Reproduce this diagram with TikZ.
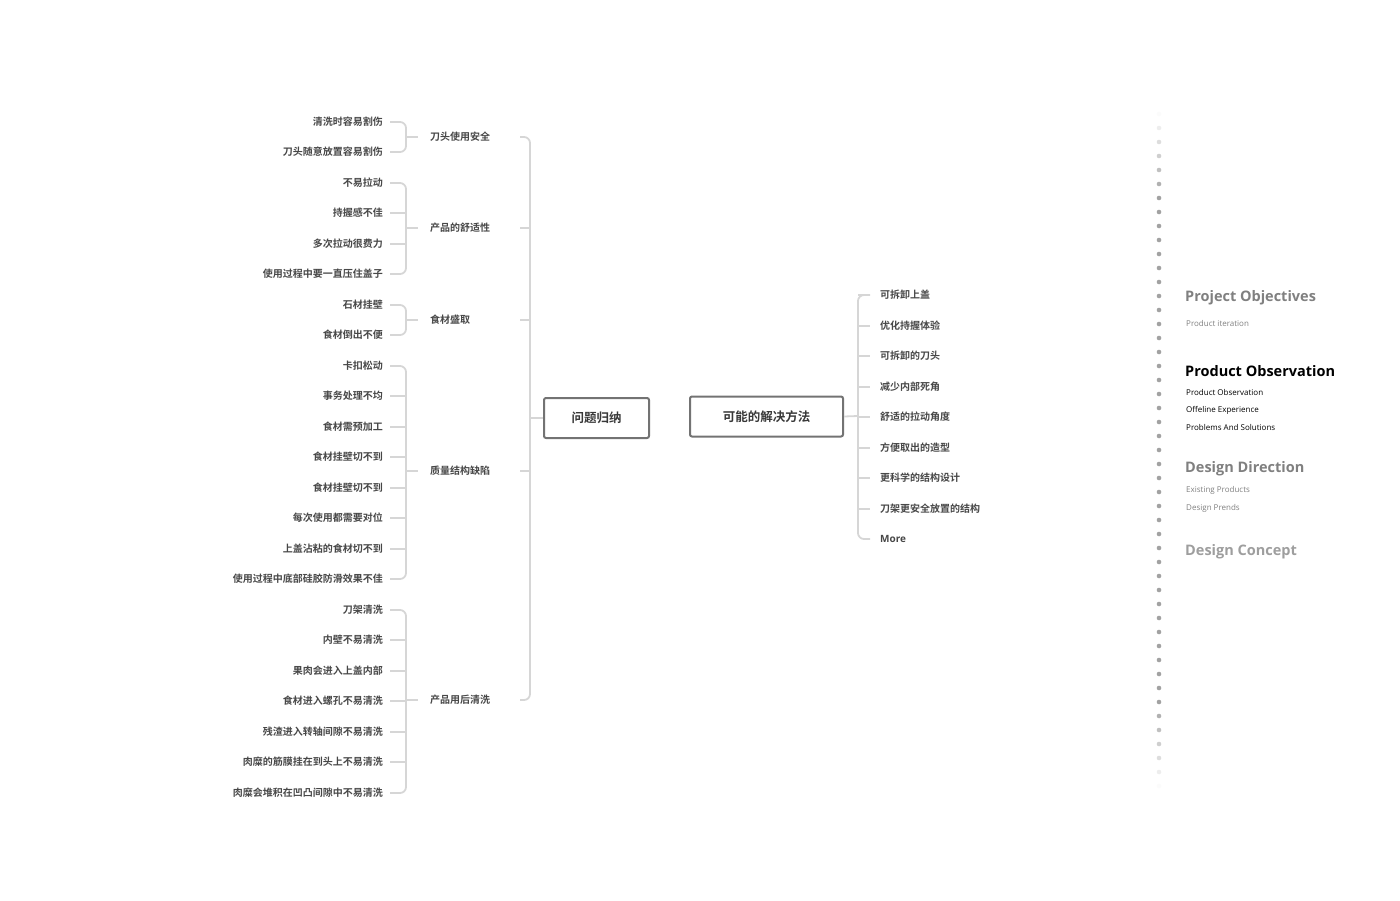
\documentclass[tikz,border=0pt]{standalone}
\usepackage{fontspec}
\setmainfont{Open Sans}
\newfontfamily\cjk{Noto Sans CJK SC}[BoldFont={* Bold}]
\begin{document}
\begin{tikzpicture}[x=1pt,y=-1pt,
  leaf/.style={font=\cjk\bfseries\fontsize{10}{12}\selectfont,text=black!72,inner sep=0pt},
  cat/.style={leaf},
  root/.style={draw=black!55,line width=2pt,rounded corners=2pt,font=\cjk\bfseries\fontsize{12.5}{14}\selectfont,text=black!78,minimum height=40pt,inner xsep=0pt},
  br/.style={draw=black!16,line width=1.8pt,rounded corners=6pt},
  stub/.style={draw=black!16,line width=1.8pt}]
\useasboundingbox (0,0) rectangle (1400,900);
% left leaves
\foreach \t/\y [count=\i] in {清洗时容易割伤/122,刀头随意放置容易割伤/152,不易拉动/183,持握感不佳/213,多次拉动很费力/244,使用过程中要一直压住盖子/274,石材挂壁/305,食材倒出不便/335,卡扣松动/366,事务处理不均/396,食材需预加工/427,食材挂壁切不到/457,食材挂壁切不到/488,每次使用都需要对位/518,上盖沾粘的食材切不到/549,使用过程中底部硅胶防滑效果不佳/579,刀架清洗/610,内壁不易清洗/640,果肉会进入上盖内部/671,食材进入螺孔不易清洗/701,残渣进入转轴间隙不易清洗/732,肉糜的筋膜挂在到头上不易清洗/762,肉糜会堆积在凹凸间隙中不易清洗/793}
  \node[leaf,anchor=east] (l\i) at (383,\y) {\t};
% categories
\foreach \t/\y/\n in {刀头使用安全/137/c1,产品的舒适性/228/c2,食材盛取/320/c3,质量结构缺陷/471/c4,产品用后清洗/700/c5}
  \node[cat,anchor=west] (\n) at (430,\y) {\t};
\node[cat,anchor=west] at (432,320) {};
% brackets leaf->category
\foreach \a/\b/\c in {122/152/137,183/274/228,305/335/320,366/579/471,610/793/700}{
  \draw[br] (390,\a) -| (406,\c) |- (390,\b);
  \draw[stub] (406,\c) -- (418,\c);
}
\foreach \y in {213,244,396,427,457,488,518,549,640,671,701,732,762}
  \draw[stub] (390,\y) -- (406,\y);
% main column
\node[root,minimum width=105pt] (r1) at (596.5,418) {问题归纳};
\draw[br] (520,137) -| (530,418) |- (520,700);
\foreach \y in {228,320,471} \draw[stub] (520,\y) -- (530,\y);
\draw[stub] (530,418) -- (r1.west);
% right
\node[root,minimum width=153pt] (r2) at (766.5,416.5) {可能的解决方法};
\draw[br] (870,295) -| (858,416) |- (870,539);
\draw[stub] (r2.east) -- (858,416);
\foreach \t/\y [count=\i] in {可拆卸上盖/295,优化持握体验/326,可拆卸的刀头/356,减少内部死角/387,舒适的拉动角度/417,方便取出的造型/448,更科学的结构设计/478,刀架更安全放置的结构/509}{
  \node[leaf,anchor=west] (s\i) at (880,\y) {\t};
  \draw[stub] (858,\y) -- (870,\y);
}
\node[leaf,anchor=west,font=\bfseries\fontsize{10}{12}\selectfont] (s9) at (880,539) {More};
% dotted column
\foreach \i in {0,...,48}{
  \pgfmathsetmacro\op{min(1,min(\i/6,(48-\i)/6))*0.5+0.02}
  \fill[black!70,opacity=\op] (1159,114+14*\i) circle (2.3pt);
}
% sidebar
\node[anchor=west,inner sep=0pt,font=\bfseries\fontsize{14.5}{16}\selectfont,text=black!50] (p1) at (1185,298) {Project Objectives};
\node[anchor=west,inner sep=0pt,font=\fontsize{8}{10}\selectfont,text=black!50] at (1186,323) {Product iteration};
\node[anchor=west,inner sep=0pt,font=\bfseries\fontsize{14.5}{16}\selectfont,text=black] (p2) at (1185,371) {Product Observation};
\node[anchor=west,inner sep=0pt,font=\fontsize{8}{10}\selectfont,text=black] at (1186,392) {Product Observation};
\node[anchor=west,inner sep=0pt,font=\fontsize{8}{10}\selectfont,text=black] at (1186,410) {Offeline Experience};
\node[anchor=west,inner sep=0pt,font=\fontsize{8}{10}\selectfont,text=black] at (1186,427) {Problems And Solutions};
\node[anchor=west,inner sep=0pt,font=\bfseries\fontsize{14.5}{16}\selectfont,text=black!50] (p3) at (1185,469) {Design Direction};
\node[anchor=west,inner sep=0pt,font=\fontsize{8}{10}\selectfont,text=black!50] at (1186,490) {Existing Products};
\node[anchor=west,inner sep=0pt,font=\fontsize{8}{10}\selectfont,text=black!50] at (1186,508) {Design Prends};
\node[anchor=west,inner sep=0pt,font=\bfseries\fontsize{14.5}{16}\selectfont,text=black!38] (p4) at (1185,552) {Design Concept};
\end{tikzpicture}
\end{document}
